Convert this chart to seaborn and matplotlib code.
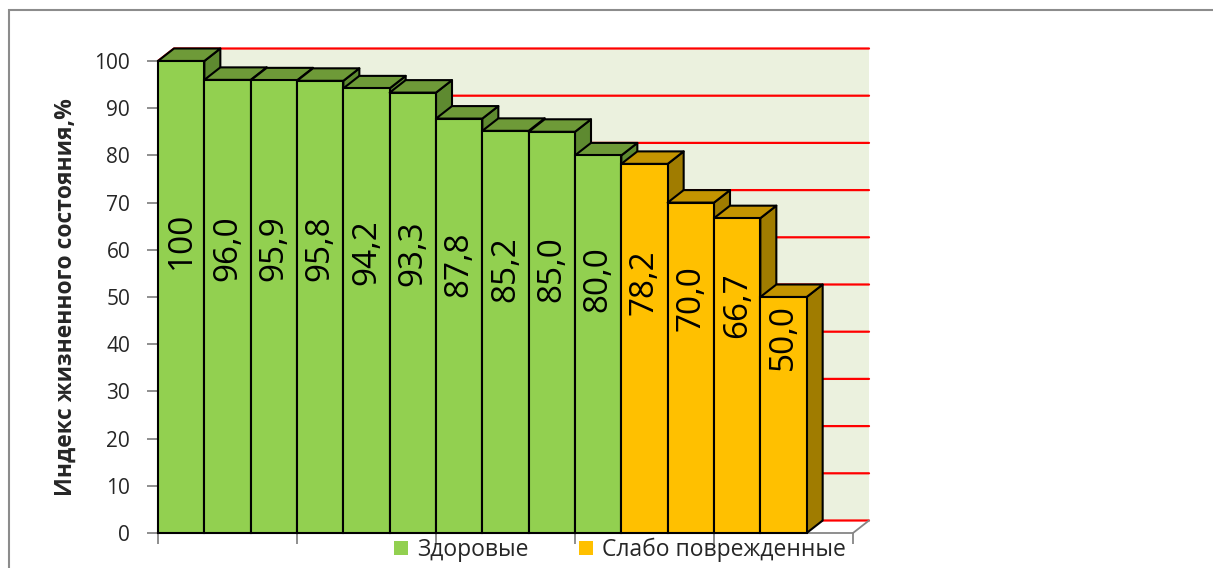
import numpy as np
import pandas as pd
import matplotlib
matplotlib.use("Agg")
import matplotlib.pyplot as plt
import seaborn as sns
from matplotlib.patches import Polygon, Rectangle, Patch

# ---------------- data ----------------
bar_ids = [str(i) for i in range(1, 15)]
values = [100, 96.0, 95.9, 95.8, 94.2, 93.3, 87.8, 85.2, 85.0, 80.0, 78.2, 70.0, 66.7, 50.0]
groups = ["Здоровые"] * 10 + ["Слабо поврежденные"] * 4
group_names = ["Здоровые", "Слабо поврежденные"]
y_ticks = list(range(0, 101, 10))
y_label = "Индекс жизненного состояния,%"

# ---------------- styles ----------------
front_col = {"Здоровые": "#92D050", "Слабо поврежденные": "#FFC000"}
top_col = {"Здоровые": "#6E9A38", "Слабо поврежденные": "#C49400"}
side_col = {"Здоровые": "#5E8A30", "Слабо поврежденные": "#A07C00"}
wall_col = "#EBF1DE"
axis_gray = "#868686"

sns.set_style("white")
plt.rcParams['font.family'] = ['Open Sans', 'DejaVu Sans']

W, H = 1213, 568
fig = plt.figure(figsize=(W / 100, H / 100), dpi=100)
ax = fig.add_axes([158 / W, 35 / H, 695 / W, 472 / H])

df = pd.DataFrame({"id": bar_ids, "value": values, "group": groups})
sns.barplot(data=df, x="id", y="value", hue="group", palette=front_col,
            dodge=False, width=1.0, edgecolor="black", linewidth=1.5,
            saturation=1, ax=ax, legend=False)

n_slots = len(bar_ids) + 1
ax.set_xlim(-0.5, n_slots - 0.5)
ax.set_ylim(0, 100)

# pixel -> data conversions for the 3D depth offset
bb = ax.get_window_extent()
px_x = bb.width / (n_slots)
px_y = bb.height / 100.0
dx = 16 / px_x
dy = 12.5 / px_y

x_left, x_right = ax.get_xlim()

# back wall
ax.add_patch(Rectangle((x_left + dx, dy), x_right - x_left, 100, facecolor=wall_col,
                       edgecolor="none", zorder=0.5, clip_on=False))
# red gridlines on the wall
for t in y_ticks:
    ax.plot([x_left, x_left + dx, x_right + dx], [t, t + dy, t + dy],
            color="red", lw=1.6, zorder=1, clip_on=False)
# floor outline (right edge)
ax.plot([x_right, x_right + dx], [0, dy], color=axis_gray, lw=1.3, zorder=1.2, clip_on=False)

# 3D faces
bars = sorted([p for p in ax.patches if isinstance(p, Rectangle) and p.get_height() > 0
               and p.get_width() < 2], key=lambda p: p.get_x())
for i, p in enumerate(bars):
    x0 = p.get_x()
    w = p.get_width()
    h = p.get_height()
    x1 = x0 + w
    g = groups[i]
    base = 3 + i
    p.set_zorder(base + 0.5)
    top = Polygon([(x0, h), (x1, h), (x1 + dx, h + dy), (x0 + dx, h + dy)], closed=True,
                  facecolor=top_col[g], edgecolor="black", lw=1.5, zorder=base + 0.2,
                  clip_on=False, joinstyle="round")
    side = Polygon([(x1, 0), (x1 + dx, dy), (x1 + dx, h + dy), (x1, h)], closed=True,
                   facecolor=side_col[g], edgecolor="black", lw=1.5, zorder=base + 0.1,
                   clip_on=False, joinstyle="round")
    ax.add_patch(side)
    ax.add_patch(top)
    p.set_clip_on(False)
    lab = "100" if h == 100 else f"{h:.1f}".replace(".", ",")
    ax.text(x0 + w / 2, 0.41 * h + 21, lab, rotation=90, ha="center", va="center",
            fontsize=24, color="black", zorder=base + 0.6)

# axes styling
for s in ["top", "right"]:
    ax.spines[s].set_visible(False)
for s in ["left", "bottom"]:
    ax.spines[s].set_color(axis_gray)
    ax.spines[s].set_linewidth(1.3)
    ax.spines[s].set_zorder(2)
ax.set_yticks(y_ticks)
ax.set_yticklabels([str(t) for t in y_ticks])
ax.set_xticks(np.arange(-0.5, n_slots, 3))
ax.set_xticklabels([])
ax.tick_params(axis="y", length=8, width=1.3, color=axis_gray, labelsize=15, pad=12, left=True)
ax.tick_params(axis="x", length=8, width=1.3, color=axis_gray, bottom=True)
ax.set_xlabel("")
ax.set_ylabel(y_label, fontsize=16.5, fontweight="bold", labelpad=12)
ax.grid(False)
ax.set_facecolor("white")

# legend
handles = [Patch(facecolor=front_col[g], edgecolor="none") for g in group_names]
fig.legend(handles, group_names, loc="center", bbox_to_anchor=(620 / W, 1 - 550 / H),
           ncol=2, frameon=False, fontsize=16.5, handlelength=0.6, handleheight=0.6,
           handletextpad=0.4, columnspacing=2.2, borderpad=0)

# outer border
fig.patches.append(Rectangle((9 / W, -0.1), 1.2, (H - 10) / H + 0.1, transform=fig.transFigure,
                             fill=False, edgecolor="#8C8C8C", lw=1.5, zorder=0))

fig.savefig("out.png", dpi=100)
